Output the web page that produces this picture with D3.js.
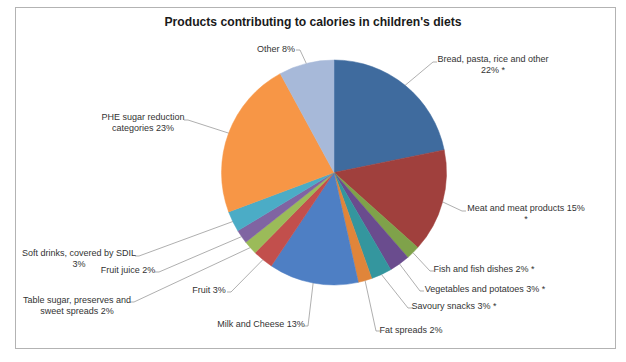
<!DOCTYPE html>
<html>
<head>
<meta charset="utf-8">
<script src="https://cdn.jsdelivr.net/npm/d3@7"></script>
<style>
  body { margin: 0; background: #fff; }
  svg { display: block; font-family: 'Liberation Sans', Arial, sans-serif; }
</style>
</head>
<body>
<div id="chart"></div>
<script>
// data
const categories = [
  'Bread, pasta, rice and other',
  'Meat and meat products',
  'Fish and fish dishes',
  'Vegetables and potatoes',
  'Savoury snacks',
  'Fat spreads',
  'Milk and Cheese',
  'Fruit',
  'Table sugar, preserves and sweet spreads',
  'Fruit juice',
  'Soft drinks, covered by SDIL',
  'PHE sugar reduction categories',
  'Other',
];
const values = [22, 15, 2, 3, 3, 2, 13, 3, 2, 2, 3, 23, 8];
const starred = [true, true, true, true, true, false, false, false, false, false, false, false, false];
const colors = [
  '#3f6b9e', '#a0403d', '#7fa24a', '#6a4c8e', '#34969e', '#e0853a', '#4e7fc4',
  '#c24f4c', '#9bbb59', '#8064a2', '#4bacc6', '#f79646', '#a7b9d9',
];

// label layout: centre x, first line y, line break (word index), leader attach point
const labelLayout = [
  { x: 493, y: 59, brk: 5, ax: 437, ay: 62 },
  { x: 526, y: 208, brk: 5, ax: 466, ay: 211 },
  { x: 484, y: 269, brk: 0, ax: 434, ay: 271 },
  { x: 485, y: 289, brk: 0, ax: 424, ay: 291 },
  { x: 454, y: 306, brk: 0, ax: 412, ay: 308 },
  { x: 411, y: 330, brk: 0, ax: 380, ay: 331 },
  { x: 261, y: 324, brk: 0, ax: 304, ay: 326 },
  { x: 209, y: 290, brk: 0, ax: 227, ay: 292 },
  { x: 77, y: 300, brk: 4, ax: 130, ay: 302 },
  { x: 128, y: 270, brk: 0, ax: 155, ay: 272 },
  { x: 79, y: 253, brk: 5, ax: 135, ay: 256 },
  { x: 143, y: 117, brk: 3, ax: 184, ay: 120 },
  { x: 276, y: 49, brk: 0, ax: 296, ay: 50 },
];

const width = 626;
const height = 362;
const cx = 334;
const cy = 172.5;
const radius = 112.5;

const svg = d3.select('#chart').append('svg')
  .attr('width', width)
  .attr('height', height);

svg.append('rect')
  .attr('x', 15.5)
  .attr('y', 7.5)
  .attr('width', 600)
  .attr('height', 341)
  .attr('fill', '#fff')
  .attr('stroke', '#b3b3b3')
  .attr('stroke-width', 1);

svg.append('text')
  .attr('x', 313)
  .attr('y', 26)
  .attr('text-anchor', 'middle')
  .attr('font-size', '12.5px')
  .attr('font-weight', 'bold')
  .attr('fill', '#1a1a1a')
  .attr('textLength', 297)
  .attr('lengthAdjust', 'spacingAndGlyphs')
  .text("Products contributing to calories in children's diets");

const data = categories.map((c, i) => ({
  name: c, value: values[i], star: starred[i], color: colors[i], layout: labelLayout[i],
}));

const pie = d3.pie().sort(null).value((d) => d.value);
const arc = d3.arc().innerRadius(0).outerRadius(radius);
const arcs = pie(data);

const plot = svg.append('g')
  .attr('transform', `translate(${cx},${cy})`);

plot.selectAll('path.slice')
  .data(arcs)
  .enter()
  .append('path')
  .attr('class', 'slice')
  .attr('d', arc)
  .attr('fill', (d) => d.data.color)
  .attr('stroke', (d) => d.data.color)
  .attr('stroke-width', 0.5);

// leader lines: label attach point -> short stub -> edge of slice
const leaders = svg.append('g').attr('class', 'leaders');
arcs.forEach((d) => {
  const mid = (d.startAngle + d.endAngle) / 2;
  const ex = cx + radius * Math.sin(mid);
  const ey = cy - radius * Math.cos(mid);
  const l = d.data.layout;
  const dir = ex > l.ax ? 1 : -1;
  const pts = [[l.ax, l.ay], [l.ax + dir * 4, l.ay], [ex, ey]];
  leaders.append('path')
    .attr('d', d3.line()(pts))
    .attr('fill', 'none')
    .attr('stroke', '#8c8c8c')
    .attr('stroke-width', 0.7);
});

const labels = svg.append('g').attr('class', 'labels')
  .attr('font-size', '9px')
  .attr('fill', '#333');

data.forEach((d) => {
  const words = `${d.name} ${d.value}%${d.star ? ' *' : ''}`.split(' ');
  const l = d.layout;
  const lines = l.brk ? [words.slice(0, l.brk).join(' '), words.slice(l.brk).join(' ')] : [words.join(' ')];
  const t = labels.append('text')
    .attr('text-anchor', 'middle')
    .attr('x', l.x)
    .attr('y', l.y);
  lines.forEach((line, i) => {
    t.append('tspan')
      .attr('x', l.x)
      .attr('dy', i === 0 ? '0.35em' : '11')
      .text(line);
  });
});
</script>
</body>
</html>
